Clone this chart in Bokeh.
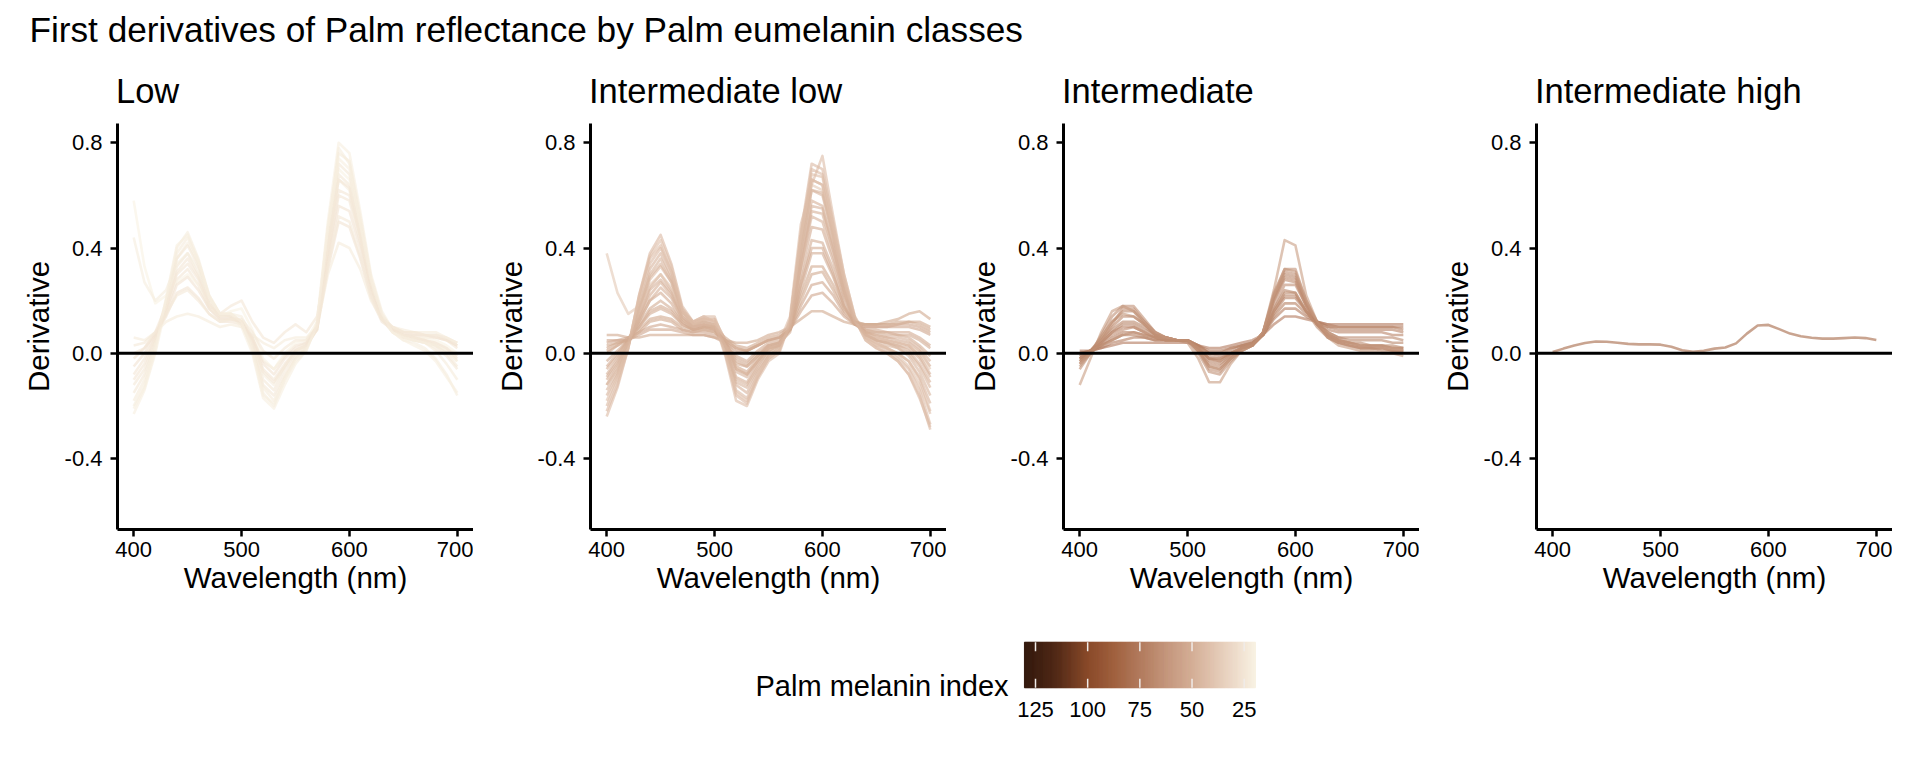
import numpy as np
from bokeh.plotting import figure
from bokeh.layouts import column, row
from bokeh.models import (ColumnDataSource, Range1d, FixedTicker,
                          NumeralTickFormatter, Span, LinearColorMapper)
from bokeh.core.properties import value
from bokeh.embed import file_html
from bokeh.resources import INLINE

FONT = "Liberation Sans"

main_title = "First derivatives of Palm reflectance by Palm eumelanin classes"
panel_titles = ["Low", "Intermediate low", "Intermediate", "Intermediate high"]
x_label = "Wavelength (nm)"
y_label = "Derivative"
legend_title = "Palm melanin index"
legend_ticks = [125, 100, 75, 50, 25]
x_ticks = [400, 500, 600, 700]
y_ticks = [-0.4, 0.0, 0.4, 0.8]

wavelength = list(range(400, 701, 10))

# ---- Low class ----
low_melanin = [22, 24, 25, 26, 23, 20, 22, 25, 21, 24, 23, 25, 26, 21, 24]
low_curves = [
    [-0.20, -0.12, 0.02, 0.20, 0.40, 0.46, 0.36, 0.22, 0.15, 0.15, 0.12, 0.02, -0.15, -0.20, -0.10, -0.02, 0.02, 0.10, 0.45, 0.78, 0.72, 0.50, 0.28, 0.14, 0.08, 0.05, 0.04, 0.02, -0.02, -0.08, -0.16],
    [-0.15, -0.08, 0.04, 0.17, 0.33, 0.38, 0.30, 0.19, 0.14, 0.14, 0.12, 0.04, -0.10, -0.14, -0.06, 0.00, 0.03, 0.09, 0.40, 0.68, 0.64, 0.45, 0.25, 0.13, 0.08, 0.06, 0.05, 0.04, 0.02, -0.01, -0.06],
    [-0.10, -0.04, 0.06, 0.16, 0.28, 0.32, 0.26, 0.17, 0.13, 0.13, 0.12, 0.05, -0.06, -0.10, -0.04, 0.01, 0.03, 0.09, 0.36, 0.60, 0.58, 0.42, 0.24, 0.13, 0.09, 0.07, 0.06, 0.05, 0.04, 0.02, -0.01],
    [-0.05, 0.00, 0.07, 0.14, 0.23, 0.25, 0.21, 0.15, 0.12, 0.12, 0.11, 0.06, -0.03, -0.06, -0.01, 0.03, 0.04, 0.09, 0.32, 0.50, 0.48, 0.36, 0.21, 0.12, 0.09, 0.07, 0.07, 0.06, 0.06, 0.05, 0.03],
    [0.06, 0.05, 0.08, 0.12, 0.14, 0.15, 0.14, 0.12, 0.10, 0.11, 0.10, 0.07, 0.04, 0.02, 0.05, 0.06, 0.06, 0.10, 0.30, 0.42, 0.40, 0.32, 0.20, 0.13, 0.10, 0.09, 0.08, 0.08, 0.08, 0.06, 0.04],
    [0.58, 0.33, 0.19, 0.22, 0.27, 0.30, 0.26, 0.18, 0.14, 0.16, 0.17, 0.09, -0.02, -0.06, 0.00, 0.04, 0.05, 0.12, 0.42, 0.70, 0.66, 0.48, 0.27, 0.14, 0.09, 0.07, 0.06, 0.06, 0.05, 0.03, 0.00],
    [0.44, 0.27, 0.20, 0.24, 0.34, 0.38, 0.32, 0.20, 0.14, 0.15, 0.14, 0.06, -0.08, -0.12, -0.05, 0.01, 0.03, 0.10, 0.40, 0.66, 0.62, 0.44, 0.25, 0.13, 0.08, 0.06, 0.05, 0.04, 0.03, 0.01, -0.03],
    [0.00, 0.02, 0.08, 0.18, 0.30, 0.34, 0.28, 0.18, 0.15, 0.18, 0.20, 0.12, 0.06, 0.04, 0.08, 0.11, 0.08, 0.14, 0.38, 0.62, 0.60, 0.44, 0.25, 0.14, 0.10, 0.08, 0.08, 0.07, 0.07, 0.05, 0.02],
    [-0.23, -0.14, 0.00, 0.18, 0.36, 0.42, 0.34, 0.21, 0.15, 0.14, 0.10, 0.00, -0.17, -0.21, -0.12, -0.04, 0.01, 0.12, 0.50, 0.80, 0.76, 0.54, 0.30, 0.16, 0.09, 0.06, 0.05, 0.04, 0.03, 0.01, -0.03],
    [-0.12, -0.06, 0.05, 0.20, 0.36, 0.41, 0.33, 0.21, 0.15, 0.14, 0.11, 0.02, -0.12, -0.16, -0.08, -0.01, 0.02, 0.10, 0.42, 0.72, 0.68, 0.48, 0.27, 0.14, 0.09, 0.07, 0.06, 0.05, 0.03, 0.00, -0.05],
    [-0.18, -0.10, 0.03, 0.19, 0.38, 0.44, 0.35, 0.22, 0.15, 0.15, 0.12, 0.03, -0.13, -0.18, -0.09, -0.02, 0.02, 0.11, 0.47, 0.76, 0.73, 0.52, 0.29, 0.15, 0.09, 0.06, 0.05, 0.04, 0.01, -0.04, -0.10],
    [-0.08, -0.02, 0.06, 0.17, 0.31, 0.36, 0.29, 0.19, 0.14, 0.14, 0.12, 0.05, -0.07, -0.11, -0.05, 0.01, 0.03, 0.10, 0.40, 0.66, 0.63, 0.45, 0.26, 0.14, 0.09, 0.07, 0.06, 0.05, 0.04, 0.02, -0.02],
    [-0.02, 0.02, 0.07, 0.15, 0.26, 0.29, 0.24, 0.17, 0.13, 0.13, 0.12, 0.06, -0.04, -0.08, -0.02, 0.02, 0.04, 0.10, 0.35, 0.56, 0.54, 0.40, 0.23, 0.13, 0.09, 0.08, 0.07, 0.07, 0.06, 0.05, 0.03],
    [-0.21, -0.13, 0.01, 0.21, 0.41, 0.45, 0.35, 0.21, 0.15, 0.15, 0.12, 0.01, -0.16, -0.19, -0.10, -0.03, 0.01, 0.11, 0.48, 0.74, 0.70, 0.49, 0.28, 0.15, 0.08, 0.05, 0.03, 0.01, -0.03, -0.09, -0.15],
    [0.03, 0.04, 0.08, 0.15, 0.22, 0.24, 0.20, 0.15, 0.12, 0.13, 0.13, 0.08, 0.01, -0.02, 0.02, 0.05, 0.05, 0.10, 0.33, 0.52, 0.50, 0.37, 0.22, 0.13, 0.10, 0.08, 0.08, 0.07, 0.07, 0.06, 0.04],
]

# ---- Intermediate low class ----
intlow_melanin = [45, 47, 49, 51, 50, 53, 52, 38, 43, 48, 52, 44, 50, 46, 53, 42,
                  46, 49, 51, 43, 52, 48]
intlow_curves = [
    [-0.22, -0.12, 0.02, 0.22, 0.38, 0.45, 0.34, 0.18, 0.12, 0.14, 0.12, 0.00, -0.16, -0.19, -0.09, -0.02, 0.01, 0.12, 0.46, 0.72, 0.70, 0.50, 0.30, 0.14, 0.06, 0.03, 0.01, -0.02, -0.06, -0.14, -0.27],
    [-0.16, -0.08, 0.03, 0.18, 0.32, 0.38, 0.29, 0.16, 0.11, 0.12, 0.11, 0.01, -0.12, -0.15, -0.07, -0.01, 0.02, 0.11, 0.42, 0.66, 0.64, 0.46, 0.27, 0.13, 0.06, 0.04, 0.02, 0.00, -0.03, -0.09, -0.19],
    [-0.10, -0.04, 0.04, 0.14, 0.25, 0.30, 0.24, 0.14, 0.10, 0.11, 0.10, 0.02, -0.09, -0.11, -0.04, 0.01, 0.03, 0.10, 0.36, 0.58, 0.56, 0.41, 0.24, 0.12, 0.07, 0.05, 0.04, 0.03, 0.01, -0.04, -0.11],
    [-0.05, 0.00, 0.05, 0.12, 0.20, 0.23, 0.19, 0.12, 0.09, 0.10, 0.09, 0.03, -0.05, -0.07, -0.02, 0.02, 0.03, 0.09, 0.30, 0.48, 0.47, 0.35, 0.21, 0.12, 0.08, 0.07, 0.06, 0.05, 0.04, 0.01, -0.05],
    [0.00, 0.03, 0.06, 0.10, 0.15, 0.17, 0.15, 0.11, 0.09, 0.09, 0.08, 0.04, -0.02, -0.04, 0.00, 0.03, 0.04, 0.08, 0.24, 0.38, 0.38, 0.29, 0.18, 0.11, 0.09, 0.08, 0.08, 0.07, 0.07, 0.05, 0.02],
    [0.04, 0.05, 0.06, 0.08, 0.10, 0.11, 0.10, 0.09, 0.08, 0.08, 0.07, 0.05, 0.02, 0.01, 0.03, 0.05, 0.06, 0.09, 0.18, 0.26, 0.27, 0.22, 0.15, 0.11, 0.10, 0.10, 0.10, 0.10, 0.10, 0.09, 0.07],
    [0.07, 0.07, 0.06, 0.06, 0.07, 0.07, 0.07, 0.07, 0.07, 0.07, 0.06, 0.05, 0.04, 0.04, 0.05, 0.07, 0.08, 0.10, 0.13, 0.16, 0.16, 0.14, 0.12, 0.11, 0.11, 0.11, 0.12, 0.13, 0.15, 0.16, 0.13],
    [0.38, 0.23, 0.15, 0.18, 0.26, 0.30, 0.25, 0.16, 0.12, 0.13, 0.13, 0.05, -0.05, -0.08, -0.02, 0.03, 0.04, 0.11, 0.40, 0.64, 0.62, 0.45, 0.26, 0.13, 0.08, 0.06, 0.05, 0.04, 0.03, 0.00, -0.06],
    [-0.12, -0.06, 0.03, 0.15, 0.28, 0.33, 0.27, 0.16, 0.12, 0.13, 0.13, 0.05, -0.06, -0.08, -0.03, 0.02, 0.04, 0.14, 0.49, 0.64, 0.75, 0.52, 0.30, 0.14, 0.07, 0.04, 0.02, 0.00, -0.03, -0.10, -0.22],
    [-0.08, -0.02, 0.05, 0.12, 0.20, 0.25, 0.21, 0.13, 0.10, 0.11, 0.10, 0.04, -0.04, -0.05, -0.01, 0.03, 0.04, 0.10, 0.33, 0.52, 0.50, 0.37, 0.22, 0.12, 0.08, 0.07, 0.06, 0.06, 0.05, 0.02, -0.03],
    [0.02, 0.04, 0.05, 0.09, 0.13, 0.14, 0.13, 0.10, 0.09, 0.10, 0.10, 0.06, 0.03, 0.02, 0.04, 0.06, 0.07, 0.10, 0.22, 0.33, 0.33, 0.26, 0.17, 0.12, 0.11, 0.11, 0.11, 0.11, 0.12, 0.12, 0.10],
    [-0.20, -0.10, 0.02, 0.20, 0.34, 0.40, 0.31, 0.17, 0.12, 0.14, 0.14, 0.03, -0.14, -0.17, -0.08, -0.01, 0.02, 0.13, 0.44, 0.70, 0.68, 0.48, 0.28, 0.13, 0.05, 0.02, 0.00, -0.03, -0.08, -0.16, -0.29],
    [-0.03, 0.01, 0.05, 0.11, 0.17, 0.20, 0.17, 0.12, 0.09, 0.10, 0.09, 0.04, -0.03, -0.05, -0.01, 0.03, 0.04, 0.09, 0.27, 0.43, 0.42, 0.32, 0.19, 0.11, 0.08, 0.08, 0.07, 0.07, 0.06, 0.03, -0.01],
    [-0.14, -0.07, 0.03, 0.17, 0.30, 0.36, 0.28, 0.16, 0.11, 0.12, 0.11, 0.02, -0.11, -0.13, -0.06, 0.00, 0.03, 0.11, 0.40, 0.62, 0.60, 0.44, 0.26, 0.13, 0.07, 0.05, 0.04, 0.02, 0.00, -0.05, -0.13],
    [0.05, 0.05, 0.05, 0.07, 0.09, 0.09, 0.09, 0.08, 0.07, 0.07, 0.06, 0.04, 0.01, 0.01, 0.03, 0.05, 0.06, 0.09, 0.16, 0.22, 0.23, 0.19, 0.14, 0.11, 0.10, 0.10, 0.10, 0.11, 0.11, 0.10, 0.08],
    [-0.18, -0.09, 0.03, 0.21, 0.37, 0.43, 0.33, 0.17, 0.11, 0.13, 0.12, 0.00, -0.15, -0.18, -0.09, -0.02, 0.01, 0.12, 0.45, 0.68, 0.67, 0.48, 0.28, 0.13, 0.06, 0.03, 0.02, -0.01, -0.05, -0.12, -0.23],
    [-0.12, -0.05, 0.04, 0.16, 0.29, 0.34, 0.27, 0.15, 0.11, 0.12, 0.11, 0.02, -0.10, -0.12, -0.05, 0.01, 0.03, 0.11, 0.39, 0.62, 0.61, 0.44, 0.26, 0.13, 0.07, 0.05, 0.03, 0.02, -0.01, -0.07, -0.16],
    [-0.06, -0.01, 0.05, 0.13, 0.22, 0.27, 0.22, 0.13, 0.10, 0.11, 0.10, 0.03, -0.06, -0.08, -0.03, 0.02, 0.03, 0.10, 0.33, 0.54, 0.53, 0.39, 0.23, 0.12, 0.08, 0.06, 0.05, 0.04, 0.03, -0.01, -0.08],
    [0.01, 0.03, 0.05, 0.10, 0.16, 0.18, 0.16, 0.11, 0.09, 0.10, 0.09, 0.05, -0.01, -0.03, 0.01, 0.04, 0.05, 0.09, 0.26, 0.40, 0.40, 0.30, 0.18, 0.11, 0.09, 0.09, 0.08, 0.08, 0.08, 0.06, 0.03],
    [-0.24, -0.13, 0.02, 0.22, 0.36, 0.41, 0.31, 0.16, 0.11, 0.13, 0.12, -0.01, -0.18, -0.20, -0.10, -0.03, 0.00, 0.12, 0.44, 0.66, 0.64, 0.46, 0.27, 0.13, 0.05, 0.02, 0.00, -0.03, -0.08, -0.17, -0.28],
    [0.03, 0.04, 0.05, 0.08, 0.12, 0.13, 0.12, 0.09, 0.08, 0.09, 0.08, 0.05, 0.02, 0.01, 0.03, 0.05, 0.06, 0.09, 0.20, 0.30, 0.31, 0.24, 0.16, 0.12, 0.11, 0.11, 0.11, 0.12, 0.12, 0.11, 0.09],
    [-0.09, -0.03, 0.04, 0.13, 0.24, 0.28, 0.23, 0.14, 0.10, 0.11, 0.10, 0.03, -0.07, -0.09, -0.03, 0.02, 0.03, 0.10, 0.35, 0.56, 0.55, 0.40, 0.24, 0.12, 0.07, 0.05, 0.04, 0.03, 0.02, -0.02, -0.09],
]

# ---- Intermediate class ----
int_melanin = [58, 64, 66, 68, 70, 72, 74, 68, 65, 62, 67, 71, 63, 69, 66]
int_curves = [
    [-0.12, -0.02, 0.08, 0.16, 0.18, 0.16, 0.11, 0.07, 0.06, 0.05, 0.04, -0.02, -0.11, -0.11, -0.04, 0.01, 0.03, 0.08, 0.24, 0.43, 0.41, 0.22, 0.12, 0.06, 0.03, 0.02, 0.01, 0.01, 0.00, 0.00, -0.01],
    [-0.06, 0.00, 0.07, 0.14, 0.18, 0.18, 0.13, 0.08, 0.06, 0.05, 0.05, 0.00, -0.07, -0.08, -0.03, 0.01, 0.03, 0.08, 0.22, 0.31, 0.30, 0.19, 0.11, 0.06, 0.04, 0.03, 0.02, 0.02, 0.02, 0.01, 0.01],
    [-0.04, 0.01, 0.06, 0.12, 0.16, 0.16, 0.12, 0.08, 0.06, 0.05, 0.05, 0.01, -0.05, -0.06, -0.02, 0.02, 0.03, 0.08, 0.20, 0.28, 0.27, 0.18, 0.11, 0.07, 0.05, 0.04, 0.04, 0.03, 0.03, 0.03, 0.02],
    [-0.02, 0.01, 0.05, 0.09, 0.12, 0.12, 0.10, 0.07, 0.06, 0.05, 0.05, 0.02, -0.03, -0.04, -0.01, 0.02, 0.03, 0.07, 0.17, 0.24, 0.23, 0.16, 0.11, 0.08, 0.06, 0.05, 0.05, 0.05, 0.05, 0.04, 0.04],
    [-0.01, 0.01, 0.03, 0.06, 0.08, 0.08, 0.07, 0.06, 0.05, 0.05, 0.05, 0.03, 0.00, -0.01, 0.01, 0.03, 0.04, 0.07, 0.15, 0.21, 0.21, 0.16, 0.12, 0.10, 0.09, 0.09, 0.09, 0.09, 0.09, 0.09, 0.08],
    [0.00, 0.01, 0.02, 0.04, 0.05, 0.06, 0.06, 0.05, 0.05, 0.05, 0.05, 0.03, 0.01, 0.01, 0.02, 0.03, 0.04, 0.07, 0.13, 0.17, 0.17, 0.14, 0.12, 0.11, 0.10, 0.10, 0.10, 0.10, 0.10, 0.10, 0.10],
    [0.01, 0.01, 0.02, 0.03, 0.04, 0.04, 0.04, 0.04, 0.04, 0.04, 0.04, 0.03, 0.02, 0.02, 0.03, 0.04, 0.05, 0.07, 0.11, 0.14, 0.14, 0.13, 0.12, 0.11, 0.11, 0.11, 0.11, 0.11, 0.11, 0.11, 0.11],
    [-0.03, 0.00, 0.04, 0.08, 0.11, 0.11, 0.09, 0.07, 0.06, 0.05, 0.05, 0.02, -0.02, -0.03, 0.00, 0.02, 0.03, 0.08, 0.21, 0.30, 0.29, 0.19, 0.12, 0.08, 0.06, 0.06, 0.06, 0.06, 0.06, 0.06, 0.05],
    [-0.02, 0.01, 0.04, 0.07, 0.09, 0.10, 0.08, 0.06, 0.05, 0.05, 0.05, 0.02, -0.02, -0.03, 0.00, 0.02, 0.03, 0.07, 0.18, 0.26, 0.26, 0.18, 0.11, 0.07, 0.04, 0.03, 0.02, 0.02, 0.02, 0.01, 0.01],
    [-0.05, 0.00, 0.06, 0.12, 0.15, 0.14, 0.11, 0.07, 0.06, 0.05, 0.05, 0.01, -0.05, -0.06, -0.02, 0.01, 0.03, 0.08, 0.22, 0.32, 0.31, 0.20, 0.12, 0.07, 0.05, 0.04, 0.03, 0.03, 0.03, 0.02, 0.02],
    [-0.03, 0.01, 0.05, 0.10, 0.14, 0.14, 0.11, 0.07, 0.06, 0.05, 0.05, 0.01, -0.04, -0.05, -0.01, 0.02, 0.03, 0.08, 0.20, 0.29, 0.28, 0.18, 0.11, 0.07, 0.05, 0.04, 0.03, 0.03, 0.03, 0.02, 0.02],
    [0.00, 0.01, 0.03, 0.05, 0.07, 0.07, 0.06, 0.05, 0.05, 0.05, 0.05, 0.03, 0.00, 0.00, 0.02, 0.03, 0.04, 0.07, 0.14, 0.19, 0.19, 0.15, 0.12, 0.10, 0.10, 0.10, 0.10, 0.10, 0.10, 0.10, 0.09],
    [-0.04, 0.00, 0.05, 0.11, 0.17, 0.17, 0.12, 0.08, 0.06, 0.05, 0.05, 0.01, -0.06, -0.07, -0.02, 0.01, 0.03, 0.08, 0.23, 0.32, 0.32, 0.20, 0.12, 0.07, 0.05, 0.04, 0.03, 0.02, 0.02, 0.02, 0.01],
    [-0.02, 0.01, 0.04, 0.08, 0.10, 0.10, 0.08, 0.06, 0.05, 0.05, 0.05, 0.02, -0.02, -0.02, 0.00, 0.02, 0.03, 0.07, 0.16, 0.22, 0.22, 0.16, 0.11, 0.09, 0.08, 0.08, 0.08, 0.08, 0.08, 0.07, 0.07],
    [-0.01, 0.01, 0.03, 0.05, 0.07, 0.08, 0.07, 0.06, 0.05, 0.05, 0.05, 0.02, -0.01, -0.02, 0.00, 0.02, 0.03, 0.07, 0.16, 0.23, 0.23, 0.16, 0.10, 0.06, 0.04, 0.03, 0.02, 0.02, 0.01, 0.01, 0.00],
]

# ---- Intermediate high class ----
inthigh_melanin = [82]
inthigh_curves = [
    [0.005, 0.018, 0.030, 0.039, 0.045, 0.044, 0.040, 0.036, 0.034, 0.034, 0.033, 0.025, 0.012, 0.006, 0.010, 0.018, 0.022, 0.038, 0.075, 0.106, 0.108, 0.092, 0.075, 0.065, 0.059, 0.056, 0.056, 0.058, 0.060, 0.058, 0.051],
]

panels = [
    (low_curves, low_melanin),
    (intlow_curves, intlow_melanin),
    (int_curves, int_melanin),
    (inthigh_curves, inthigh_melanin),
]

# ---- colour scale (style) ----
MEL_LOW, MEL_HIGH = 19.6, 130.3
anchor_vals = [19.6, 24.8, 37.3, 50.0, 62.5, 75.0, 87.5, 100.0, 116.4, 130.3]
anchor_cols = ["#f8f2e3", "#f3e6d6", "#e4cab7", "#d4ae96", "#c4967c",
               "#b27b5e", "#a0613f", "#8a4a2a", "#4f2816", "#341a0e"]


def _rgb(h):
    return [int(h[i:i + 2], 16) for i in (1, 3, 5)]


_ac = np.array([_rgb(c) for c in anchor_cols], dtype=float)
_grid = np.linspace(MEL_LOW, MEL_HIGH, 256)
palette = []
for v in _grid:
    r, g, b = (np.interp(v, anchor_vals, _ac[:, k]) for k in range(3))
    palette.append("#%02x%02x%02x" % (int(round(r)), int(round(g)), int(round(b))))

mapper = LinearColorMapper(palette=palette, low=MEL_LOW, high=MEL_HIGH)

# ---- layout constants (pixels) ----
PANEL_W = 473
FRAME_LEFT = 117
FRAME_W = 356
PANEL_TOP = 11
FRAME_H = 406
PANEL_BOTTOM = 80
PANEL_H = PANEL_TOP + FRAME_H + PANEL_BOTTOM
HEADER_H = 112
TOTAL_W = 4 * PANEL_W
MAIN_PX = 35.2
PANEL_PX = 34.5
MID = 0.31  # distance of the text middle above the baseline, in em

# header with main title and panel titles (pixel coordinates)
header = figure(width=TOTAL_W, height=HEADER_H, x_range=Range1d(0, TOTAL_W),
                y_range=Range1d(0, HEADER_H), toolbar_location=None,
                output_backend="svg", min_border=0, title=None,
                x_axis_location=None, y_axis_location=None)
header.outline_line_color = None
header.grid.visible = False
header.text(x=[29], y=[HEADER_H - (40 - MID * MAIN_PX)], text=[main_title],
            text_font=value(FONT), text_font_size="%.1fpx" % MAIN_PX,
            text_baseline="middle", text_align="left", text_color="black")
header.text(x=[FRAME_LEFT + i * PANEL_W - 1.5 for i in range(4)],
            y=[HEADER_H - (101 - MID * PANEL_PX)] * 4, text=panel_titles,
            text_font=value(FONT), text_font_size="%.1fpx" % PANEL_PX,
            text_baseline="middle", text_align="left", text_color="black")


def make_panel(curves, mel):
    p = figure(width=PANEL_W, height=PANEL_H,
               x_range=Range1d(385, 715), y_range=Range1d(-0.669, 0.873),
               toolbar_location=None, output_backend="svg",
               min_border_left=FRAME_LEFT, min_border_right=PANEL_W - FRAME_LEFT - FRAME_W,
               min_border_top=PANEL_TOP, min_border_bottom=PANEL_BOTTOM,
               x_axis_label=x_label, y_axis_label=y_label)
    p.outline_line_color = None
    p.grid.visible = False
    src = ColumnDataSource(dict(xs=[wavelength] * len(curves), ys=curves, mel=mel))
    p.multi_line("xs", "ys", source=src,
                 line_color={"field": "mel", "transform": mapper},
                 line_alpha=0.62, line_width=2.6, line_join="round")
    p.add_layout(Span(location=0, dimension="width", line_color="black",
                      line_width=3))
    p.xaxis.ticker = FixedTicker(ticks=x_ticks)
    p.yaxis.ticker = FixedTicker(ticks=y_ticks)
    p.yaxis.formatter = NumeralTickFormatter(format="0.0")
    for ax in (p.xaxis, p.yaxis):
        ax.axis_line_color = "black"
        ax.axis_line_width = 3
        ax.major_tick_line_color = "black"
        ax.major_tick_line_width = 2.5
        ax.major_tick_out = 7
        ax.major_tick_in = 0
        ax.minor_tick_line_color = None
        ax.major_label_text_font = FONT
        ax.major_label_text_font_size = "22px"
        ax.major_label_text_color = "black"
        ax.axis_label_text_font = FONT
        ax.axis_label_text_font_size = "29.5px"
        ax.axis_label_text_font_style = "normal"
        ax.axis_label_text_color = "black"
    p.xaxis.major_label_standoff = 5
    p.xaxis.axis_label_standoff = 1
    p.yaxis.major_label_standoff = 8
    p.yaxis.axis_label_standoff = 7
    return p


figs = [make_panel(c, m) for c, m in panels]

# legend (colour bar) on a reversed melanin axis spanning the full width
LEG_FRAME_H = 91
LEG_H = LEG_FRAME_H + 40
PX_PER_UNIT = 2.087
legend = figure(width=TOTAL_W, height=LEG_H,
                x_range=Range1d(125 + 1035 / PX_PER_UNIT,
                                25 - (TOTAL_W - 1243.7) / PX_PER_UNIT),
                y_range=Range1d(0, LEG_FRAME_H),
                toolbar_location=None, output_backend="svg", title=None,
                min_border_left=0, min_border_right=0,
                min_border_top=0, min_border_bottom=40,
                y_axis_location=None)
legend.outline_line_color = None
legend.grid.visible = False
edges = np.linspace(MEL_LOW, MEL_HIGH, len(palette) + 1)
bar_bottom, bar_top = 12.7, 58.3
legend.quad(left=edges[:-1], right=edges[1:], bottom=bar_bottom, top=bar_top,
            fill_color=palette, line_color=palette, line_width=1)
legend.segment(x0=legend_ticks, x1=legend_ticks, y0=[bar_bottom] * 5,
               y1=[bar_bottom + 9] * 5, line_color="#f0ebe8", line_width=1.5)
legend.segment(x0=legend_ticks, x1=legend_ticks, y0=[bar_top - 9] * 5,
               y1=[bar_top] * 5, line_color="#f0ebe8", line_width=1.5)
legend.text(x=[137.9], y=[6 + MID * 29], text=[legend_title], text_font=value(FONT),
            text_font_size="29px", text_align="right",
            text_baseline="middle", text_color="black")
legend.xaxis.ticker = FixedTicker(ticks=legend_ticks)
legend.xaxis.axis_line_color = None
legend.xaxis.major_tick_line_color = None
legend.xaxis.minor_tick_line_color = None
legend.xaxis.major_tick_out = 0
legend.xaxis.major_tick_in = 0
legend.xaxis.major_label_standoff = 1
legend.xaxis.major_label_text_font = FONT
legend.xaxis.major_label_text_font_size = "22px"
legend.xaxis.major_label_text_color = "black"

layout = column(header, row(*figs), legend)

with open("out.html", "w") as f:
    f.write(file_html(layout, INLINE))
